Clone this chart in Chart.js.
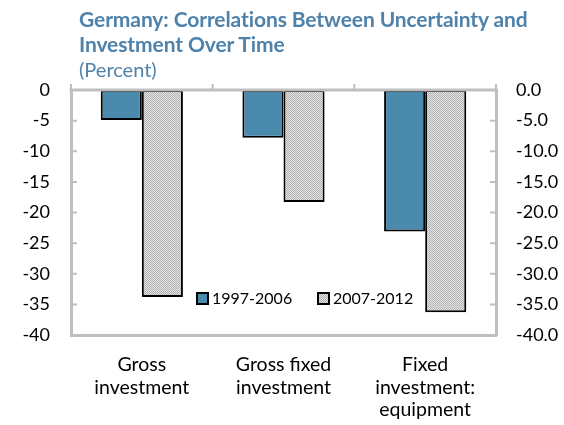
<!DOCTYPE html>
<html>
<head>
<meta charset="utf-8">
<script src="https://cdn.jsdelivr.net/npm/chart.js@4.4.0/dist/chart.umd.min.js"></script>
<style>
  html, body { margin: 0; padding: 0; background: #fff; }
  #wrap { position: relative; width: 564px; height: 425px; }
  #title { position: absolute; left: 79px; top: 6px; font-family: Lato, "Open Sans", sans-serif;
           font-weight: bold; font-size: 21px; line-height: 25px; color: #4f82aa; letter-spacing: -0.1px; white-space: nowrap; }
  #sub { position: absolute; left: 79px; top: 57px; font-family: Lato, "Open Sans", sans-serif;
         font-size: 20px; line-height: 25px; color: #4f82aa; }
  canvas { position: absolute; left: 0; top: 0; }
</style>
</head>
<body>
<div id="wrap">
  <canvas id="chart" width="564" height="425"></canvas>
  <div id="title">Germany: Correlations Between Uncertainty and<br>Investment Over Time</div>
  <div id="sub">(Percent)</div>
</div>
<script>
var categories = [['Gross', 'investment'], ['Gross fixed', 'investment'], ['Fixed', 'investment:', 'equipment']];
var seriesNames = ['1997-2006', '2007-2012'];
var early = [-4.9, -7.8, -23.1];
var late = [-33.8, -18.3, -36.3];
var yMin = -40, yMax = 0, yStep = 5;

var blue = '#4a8aad';
var axisGray = '#bfbfbf';
var font = 'Lato, "Open Sans", sans-serif';

// fine hatch used by the second series
var pc = document.createElement('canvas');
pc.width = 2; pc.height = 2;
var pctx = pc.getContext('2d');
pctx.fillStyle = '#e2e2e2';
pctx.fillRect(0, 0, 2, 2);
pctx.fillStyle = '#b4b4b4';
pctx.fillRect(0, 0, 1, 1);
pctx.fillRect(1, 1, 1, 1);
var hatch = pctx.createPattern(pc, 'repeat');

var frame = {
  id: 'frame',
  afterDraw: function(chart) {
    var c = chart.ctx, a = chart.chartArea;
    var x = chart.scales.x, y = chart.scales.y;
    c.save();
    c.strokeStyle = axisGray;
    c.lineWidth = 3;
    c.beginPath();
    c.moveTo(a.left - 1.5, a.top); c.lineTo(a.right + 1.5, a.top);
    c.stroke();
    c.lineWidth = 2;
    c.beginPath();
    // category boundary ticks above the zero line
    for (var i = 0; i <= categories.length; i++) {
      var px = i < categories.length ? x.getPixelForTick(i) - x.width / categories.length / 2 : a.right;
      c.moveTo(px, a.top); c.lineTo(px, a.top - 6);
    }
    // inward ticks on both value axes
    y.ticks.forEach(function(t, k) {
      var py = y.getPixelForTick(k);
      c.moveTo(a.left, py); c.lineTo(a.left + 6, py);
      c.moveTo(a.right, py); c.lineTo(a.right - 6, py);
    });
    c.stroke();

    // legend inside the plot
    var lx = [197, 318], ly = 293;
    c.font = '16px ' + font;
    c.textBaseline = 'middle';
    chart.data.datasets.forEach(function(ds, k) {
      c.fillStyle = ds.backgroundColor;
      c.fillRect(lx[k], ly, 11, 11);
      c.strokeStyle = '#000';
      c.lineWidth = 2;
      c.strokeRect(lx[k], ly, 11, 11);
      c.fillStyle = '#000';
      c.fillText(ds.label, lx[k] + 15, ly + 6);
    });
    c.restore();
  }
};

new Chart(document.getElementById('chart'), {
  type: 'bar',
  data: {
    labels: categories,
    datasets: [
      { label: seriesNames[0], data: early, backgroundColor: blue, borderColor: '#000', borderWidth: 2, borderSkipped: false },
      { label: seriesNames[1], data: late, backgroundColor: hatch, borderColor: '#000', borderWidth: 2, borderSkipped: false }
    ]
  },
  options: {
    responsive: false,
    animation: false,
    layout: { padding: { top: 90, left: 0, right: 0, bottom: 0 } },
    datasets: { bar: { categoryPercentage: 0.58, barPercentage: 1.0 } },
    scales: {
      x: {
        grid: { display: false, drawTicks: false },
        border: { display: true, color: axisGray, width: 3 },
        ticks: { color: '#000', font: { family: font, size: 19.5, lineHeight: 1.15 }, padding: 19, maxRotation: 0, autoSkip: false },
        afterFit: function(s) { s.height = 90; }
      },
      y: {
        position: 'left',
        min: yMin, max: yMax,
        grid: { display: false, drawTicks: false },
        border: { display: true, color: axisGray, width: 3 },
        ticks: { stepSize: yStep, color: '#000', font: { family: font, size: 18 }, padding: 21 },
        afterFit: function(s) { s.width = 71; }
      },
      y2: {
        position: 'right',
        min: yMin, max: yMax,
        grid: { display: false, drawTicks: false },
        border: { display: true, color: axisGray, width: 3 },
        ticks: { stepSize: yStep, color: '#000', font: { family: font, size: 18 }, padding: 20,
                 callback: function(v) { return v.toFixed(1); } },
        afterFit: function(s) { s.width = 68; }
      }
    },
    plugins: {
      legend: { display: false },
      title: { display: false },
      tooltip: { enabled: false }
    }
  },
  plugins: [frame]
});
</script>
</body>
</html>
